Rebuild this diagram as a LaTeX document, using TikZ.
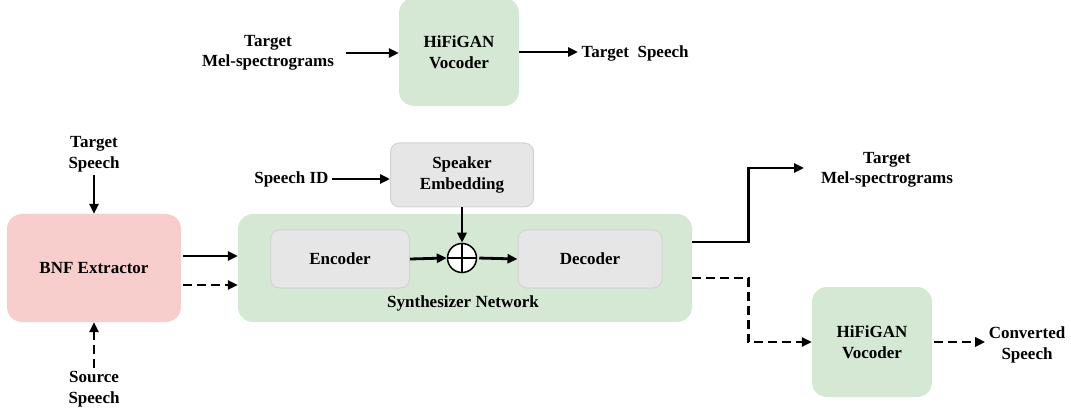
\documentclass[tikz,border=0pt]{standalone}
\usepackage{fontspec}
\setmainfont{Liberation Serif}
\newfontfamily\figfont{Liberation Serif}
\usetikzlibrary{arrows.meta}
\definecolor{boxgreen}{HTML}{D5E8D4}
\definecolor{boxpink}{HTML}{F8CECC}
\definecolor{boxgray}{HTML}{E6E6E6}
\definecolor{edgegray}{HTML}{D2D2D2}
\tikzset{
  greenbox/.style={fill=boxgreen, rounded corners=15pt, align=center},
  pinkbox/.style={fill=boxpink, rounded corners=15pt, align=center},
  graybox/.style={fill=boxgray, draw=edgegray, line width=1pt, rounded corners=9pt, align=center},
  lbl/.style={align=center},
  arr/.style={line width=2.8pt, -{Triangle[length=10pt, width=9pt]}},
  darr/.style={arr, dash pattern=on 9pt off 5pt}
}

\begin{document}
\begin{tikzpicture}[x=1pt, y=-1pt, font=\figfont\bfseries\fontsize{17}{20.5}\selectfont]
\useasboundingbox (0,0) rectangle (1071,414);
%draw boxes
\node[greenbox, minimum width=120pt, minimum height=108pt] (voc1) at (459,52) {HiFiGAN\\Vocoder};
\node[pinkbox, minimum width=174pt, minimum height=108pt] (bnf) at (94,268) {BNF Extractor};
\node[greenbox, minimum width=454pt, minimum height=108pt] (synth) at (465,268) {};
\node[graybox, minimum width=139pt, minimum height=58pt] (enc) at (340,259) {Encoder};
\node[graybox, minimum width=144pt, minimum height=58pt] (dec) at (590,259) {Decoder};
\node[graybox, minimum width=143pt, minimum height=64pt] (emb) at (462,175) {Speaker\\Embedding};
\node[draw, circle, fill=white, minimum size=29pt, line width=1.5pt] (add) at (462,258) {};
\draw[line width=1.5pt] (add.north) -- (add.south) (add.west) -- (add.east);
\node (synthname) at (463,303) {Synthesizer Network};
\node[greenbox, minimum width=120pt, minimum height=110pt] (voc2) at (872,342) {HiFiGAN\\Vocoder};
%draw labels
\node[lbl] (tmelin) at (268,53) {Target\\Mel-spectrograms};
\node[lbl, anchor=west] (tspout) at (578,53) {Target\ \ Speech};
\node[lbl] (tspin) at (94,154) {Target\\Speech};
\node[lbl] (sspin) at (94,389) {Source\\Speech};
\node[lbl, anchor=east] (spkid) at (332,179) {Speech ID};
\node[lbl] (tmelout) at (887,170) {Target\\Mel-spectrograms};
\node[lbl] (convout) at (1027,345) {Converted\\Speech};
%draw arrows
\draw[arr] (346,53) coordinate (tmelend) -- (tmelend -| voc1.west);
\draw[arr] (voc1.east) -- (voc1.east -| tspout.west);
\draw[arr] (tspin.south) -- (bnf.north);
\draw[darr] (sspin.north) -- (bnf.south);
\draw[arr, shorten <=2pt] ([yshift=12pt]bnf.east) -- ([yshift=12pt]bnf.east -| synth.west);
\draw[darr, shorten <=2pt] ([yshift=-17pt]bnf.east) -- ([yshift=-17pt]bnf.east -| synth.west);
\draw[arr] (spkid.east) -- (spkid.east -| emb.west);
\draw[arr] (emb.south) -- (add.north);
\draw[arr] (enc.east) -- (add.west);
\draw[arr, shorten <=2pt] (add.east) -- (dec.west);
\draw[arr] ([yshift=26pt]synth.east) -- ++(56,0) |- (804,168) coordinate (tmelstart);
\draw[darr] ([yshift=-10pt]synth.east) -- ++(56,0) |- (voc2.west);
\draw[darr, shorten <=2pt] (voc2.east) -- (voc2.east -| convout.west);
\end{tikzpicture}
\end{document}
